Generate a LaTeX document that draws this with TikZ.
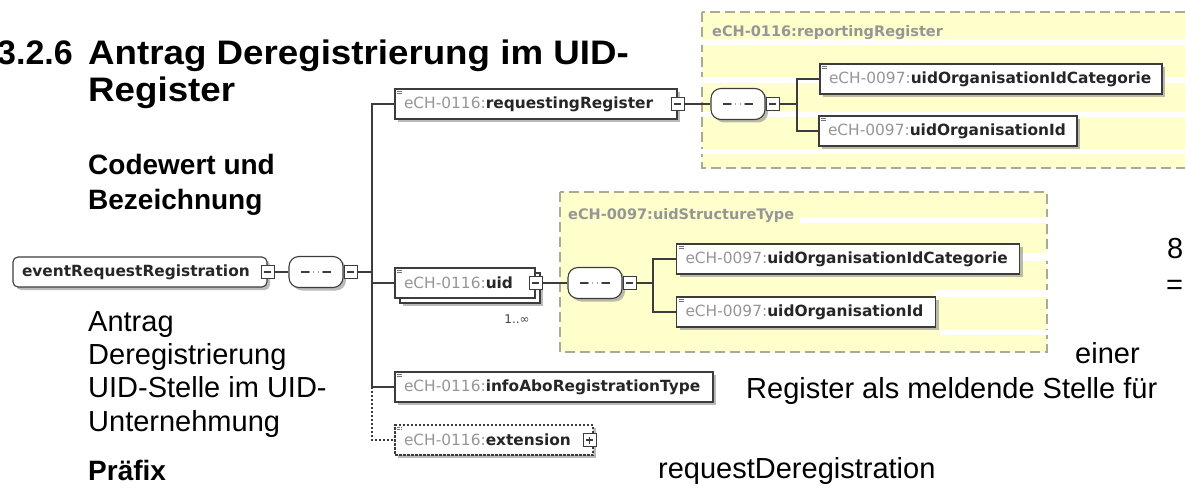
\documentclass[tikz,border=0pt]{standalone}
\usepackage{fontspec}
\setmainfont{Liberation Sans}
\newfontfamily\headfont[FakeStretch=1.08]{Liberation Sans}
\newfontfamily\xsdfont{DejaVu Sans}
\usepackage{tikz}
\usetikzlibrary{positioning}
\usetikzlibrary{shadows}
\usepackage{xcolor}

\definecolor{typeyellow}{RGB}{255,255,204}
\definecolor{xsdline}{RGB}{60,60,60}
\definecolor{nsgrey}{RGB}{150,150,150}
\definecolor{typedash}{RGB}{170,170,150}

\newcommand{\ns}[1]{\textcolor{nsgrey}{\mdseries #1}}

\tikzset{
  doctxt/.style={anchor=base west, inner sep=0pt, font=\fontsize{29}{33}\selectfont},
  docbold/.style={anchor=base west, inner sep=0pt, font=\bfseries\fontsize{28}{33}\selectfont},
  headtxt/.style={anchor=base west, inner sep=0pt, font=\headfont\bfseries\fontsize{34}{40}\selectfont},
  xsdshadow/.style={drop shadow={shadow xshift=3pt, shadow yshift=-3pt, fill=black!45, opacity=.6}},
  xsdbox/.style={draw=xsdline, fill=white, line width=1.1pt, minimum height=30pt,
    inner xsep=9pt, align=left, text=black!85,
    font=\xsdfont\bfseries\fontsize{15.4}{18}\selectfont},
  elemicon/.style={path picture={
    \foreach \d in {2.5pt,4.5pt}
      \draw[black!55, line width=.7pt] ([xshift=2pt, yshift=-\d]path picture bounding box.north west) -- ++(5pt,0);}},
  elem/.style={xsdbox, xsdshadow, elemicon},
  rootelem/.style={xsdbox, xsdshadow, rounded corners=5pt},
  optelem/.style={elem, dash pattern=on 2.5pt off 1.5pt},
  seqbox/.style={rounded corners=10pt, draw=xsdline, fill=white, line width=1.1pt,
    minimum width=54pt, minimum height=31pt, inner sep=0pt, xsdshadow, path picture={
      \draw[line width=1.2pt] ([xshift=-15pt]path picture bounding box.center) -- ([xshift=15pt]path picture bounding box.center);
      \foreach \dx in {-4.5pt,0pt,4.5pt}
        \fill ([xshift=\dx]path picture bounding box.center) circle (2.2pt);}},
  minusbox/.style={draw=xsdline, fill=white, line width=1.1pt, minimum size=13pt, inner sep=0pt,
    path picture={\draw[line width=1.1pt] ([xshift=3pt]path picture bounding box.west) -- ([xshift=-3pt]path picture bounding box.east);}},
  plusbox/.style={minusbox, path picture={
    \draw[line width=1.1pt] ([xshift=3pt]path picture bounding box.west) -- ([xshift=-3pt]path picture bounding box.east);
    \draw[line width=1.1pt] ([yshift=3pt]path picture bounding box.south) -- ([yshift=-3pt]path picture bounding box.north);}},
  typebox/.style={draw=typedash, fill=typeyellow, line width=1.3pt, dash pattern=on 10pt off 5pt},
  typelabel/.style={anchor=west, inner sep=0pt, text=nsgrey, font=\xsdfont\bfseries\fontsize{14.5}{17}\selectfont},
  conn/.style={draw=xsdline, line width=1.1pt},
  optconn/.style={conn, dash pattern=on 2pt off 2pt},
  card/.style={inner sep=0pt, text=black!75, font=\xsdfont\fontsize{12}{14}\selectfont}
}

\begin{document}
\begin{tikzpicture}[x=1pt,y=-1pt]
    \useasboundingbox (0,0) rectangle (1185,489);

    % page text behind the diagram
    \node[anchor=base east, inner sep=0pt, font=\bfseries\fontsize{34}{40}\selectfont] (secnum) at (73,65) {3.2.6};
    \node[headtxt] (title1) at (88,65) {Antrag Deregistrierung im UID-};
    \node[headtxt] (title2) at (88,102) {Register};
    \node[docbold] (code1) at (88,175) {Codewert und};
    \node[docbold] (code2) at (88,209) {Bezeichnung};
    \node[doctxt] (desc1) at (88,331) {Antrag};
    \node[doctxt] (desc2) at (88,364) {Deregistrierung};
    \node[doctxt] (desc3) at (88,397) {UID-Stelle im UID-};
    \node[doctxt] (desc4) at (88,431) {Unternehmung};
    \node[doctxt] (desc5) at (1075,363) {einer};
    \node[doctxt] (desc6) at (746,398) {Register als meldende Stelle für};
    \node[doctxt] (num8) at (1167,258) {8};
    \node[doctxt] (numeq) at (1166,294) {=};
    \node[docbold] (prefix) at (88,480) {Präfix};
    \node[doctxt] (prefixval) at (658,478) {requestDeregistration};

    % complex types
    \draw[typebox] (702,12) rectangle (1200,168);
    \fill[white] (700,39) rectangle (1185,45);
    \fill[white] (700,77) rectangle (1185,83);
    \fill[white] (700,112) rectangle (1185,117);
    \fill[white] (700,149) rectangle (1185,154);
    \node[typelabel] (rrtype) at (712,33) {eCH-0116:reportingRegister};

    \draw[typebox] (560,192) rectangle (1047,352);
    \fill[white] (800,217) rectangle (1049,223);
    \fill[white] (1020,253) rectangle (1049,261);
    \fill[white] (935,290) rectangle (1049,297);
    \fill[white] (940,330) rectangle (1049,335);
    \node[typelabel] (uidtype) at (568,216) {eCH-0097:uidStructureType};

    % root
    \node[rootelem, text width=236pt] (root) at (140,272) {eventRequestRegistration};
    \node[minusbox] (rootm) at (root.east) {};
    \node[seqbox] (seq1) at (316,272) {};
    \node[minusbox, anchor=west] (seq1m) at (seq1.east) {};
    \coordinate (fork1) at (372,272);

    % children
    \node[elem, text width=264pt] (rr) at (536,104) {\ns{eCH-0116:}requestingRegister};
    \node[minusbox] (rrm) at (rr.east) {};
    \node[seqbox] (seq2) at (738,104) {};
    \node[minusbox, anchor=west] (seq2m) at (seq2.east) {};
    \coordinate (fork2) at (797,104);
    \node[elem, text width=324pt] (rr1) at (991,79) {\ns{eCH-0097:}uidOrganisationIdCategorie};
    \node[elem, text width=240pt] (rr2) at (948,131) {\ns{eCH-0097:}uidOrganisationId};

    \node[xsdbox, xsdshadow, minimum width=140pt] (uidback) at (470,288) {};
    \node[xsdbox, elemicon, text width=122pt] (uid) at (465,283) {\ns{eCH-0116:}uid};
    \node[minusbox] (uidm) at (uid.east) {};
    \node[card] (uidcard) at (517,319) {1..∞};
    \node[seqbox] (seq3) at (595,283) {};
    \node[minusbox, anchor=west] (seq3m) at (seq3.east) {};
    \coordinate (fork3) at (653,283);
    \node[elem, text width=325pt] (u1) at (848,259) {\ns{eCH-0097:}uidOrganisationIdCategorie};
    \node[elem, text width=241pt] (u2) at (806,312) {\ns{eCH-0097:}uidOrganisationId};

    \node[elem, text width=300pt] (info) at (554,387) {\ns{eCH-0116:}infoAboRegistrationType};
    \node[optelem, text width=180pt] (ext) at (494,440) {\ns{eCH-0116:}extension};
    \node[plusbox] (extp) at ([xshift=-4pt]ext.east) {};

    % connectors
    \draw[conn] (rootm) -- (seq1);
    \draw[conn] (seq1m) -- (fork1);
    \draw[conn] (fork1) |- (rr);
    \draw[conn] (fork1) |- (uid);
    \draw[conn] (fork1) |- (info);
    \draw[optconn] (fork1 |- info) |- (ext);

    \draw[conn] (rrm) -- (seq2);
    \draw[conn] (seq2m) -- (fork2);
    \draw[conn] (fork2) |- (rr1);
    \draw[conn] (fork2) |- (rr2);

    \draw[conn] (uidm) -- (seq3);
    \draw[conn] (seq3m) -- (fork3);
    \draw[conn] (fork3) |- (u1);
    \draw[conn] (fork3) |- (u2);

\end{tikzpicture}
\end{document}
